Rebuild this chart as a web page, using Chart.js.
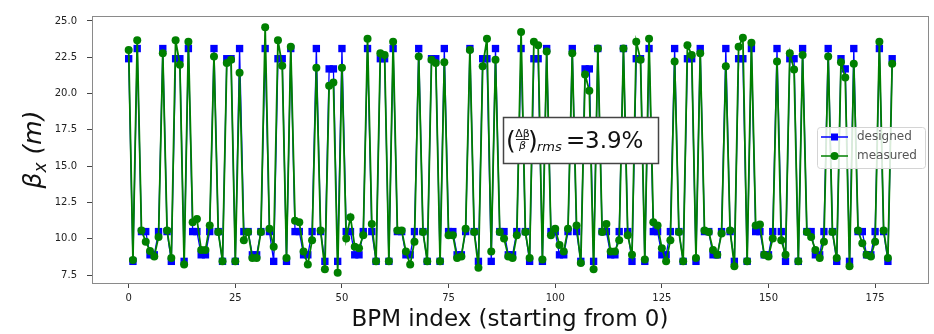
<!DOCTYPE html>
<html>
<head>
<meta charset="utf-8">
<script src="https://cdn.jsdelivr.net/npm/chart.js@4.4.1/dist/chart.umd.min.js"></script>
<style>
  html, body { margin: 0; padding: 0; background: #fff; }
  canvas { display: block; }
</style>
</head>
<body>
<canvas id="beta" width="934" height="334" style="width:934px;height:334px"></canvas>
<script>
// BPM position index along the ring
const bpmIndex = [
    0, 1, 2, 3, 4, 5, 6, 7, 8, 9, 10, 11, 12, 13, 14, 15, 16, 17, 18, 19,
    20, 21, 22, 23, 24, 25, 26, 27, 28, 29, 30, 31, 32, 33, 34, 35, 36, 37, 38, 39,
    40, 41, 42, 43, 44, 45, 46, 47, 48, 49, 50, 51, 52, 53, 54, 55, 56, 57, 58, 59,
    60, 61, 62, 63, 64, 65, 66, 67, 68, 69, 70, 71, 72, 73, 74, 75, 76, 77, 78, 79,
    80, 81, 82, 83, 84, 85, 86, 87, 88, 89, 90, 91, 92, 93, 94, 95, 96, 97, 98, 99,
    100, 101, 102, 103, 104, 105, 106, 107, 108, 109, 110, 111, 112, 113, 114, 115, 116, 117, 118, 119,
    120, 121, 122, 123, 124, 125, 126, 127, 128, 129, 130, 131, 132, 133, 134, 135, 136, 137, 138, 139,
    140, 141, 142, 143, 144, 145, 146, 147, 148, 149, 150, 151, 152, 153, 154, 155, 156, 157, 158, 159,
    160, 161, 162, 163, 164, 165, 166, 167, 168, 169, 170, 171, 172, 173, 174, 175, 176, 177, 178, 179
];

// model beta_x at each BPM (m)
const designed = [
    22.4, 8.45, 23.1, 10.5, 10.5, 8.9, 8.9, 10.5, 23.1, 10.5, 8.45, 22.4,
    22.4, 8.45, 23.1, 10.5, 10.5, 8.9, 8.9, 10.5, 23.1, 10.5, 8.45, 22.4,
    22.4, 8.45, 23.1, 10.5, 10.5, 8.9, 8.9, 10.5, 23.1, 10.5, 8.45, 22.4,
    22.4, 8.45, 23.1, 10.5, 10.5, 8.9, 8.9, 10.5, 23.1, 10.5, 8.45, 21.7,
    21.7, 8.45, 23.1, 10.5, 10.5, 8.9, 8.9, 10.5, 23.1, 10.5, 8.45, 22.4,
    22.4, 8.45, 23.1, 10.5, 10.5, 8.9, 8.9, 10.5, 23.1, 10.5, 8.45, 22.4,
    22.4, 8.45, 23.1, 10.5, 10.5, 8.9, 8.9, 10.5, 23.1, 10.5, 8.45, 22.4,
    22.4, 8.45, 23.1, 10.5, 10.5, 8.9, 8.9, 10.5, 23.1, 10.5, 8.45, 22.4,
    22.4, 8.45, 23.1, 10.5, 10.5, 8.9, 8.9, 10.5, 23.1, 10.5, 8.45, 21.7,
    21.7, 8.45, 23.1, 10.5, 10.5, 8.9, 8.9, 10.5, 23.1, 10.5, 8.45, 22.4,
    22.4, 8.45, 23.1, 10.5, 10.5, 8.9, 8.9, 10.5, 23.1, 10.5, 8.45, 22.4,
    22.4, 8.45, 23.1, 10.5, 10.5, 8.9, 8.9, 10.5, 23.1, 10.5, 8.45, 22.4,
    22.4, 8.45, 23.1, 10.5, 10.5, 8.9, 8.9, 10.5, 23.1, 10.5, 8.45, 22.4,
    22.4, 8.45, 23.1, 10.5, 10.5, 8.9, 8.9, 10.5, 23.1, 10.5, 8.45, 22.4,
    21.7, 8.45, 23.1, 10.5, 10.5, 8.9, 8.9, 10.5, 23.1, 10.5, 8.45, 22.4
];

// measured beta_x at each BPM (m)
const measured = [
    23.0, 8.55, 23.67, 10.58, 9.8, 9.17, 8.79, 10.13, 22.77, 10.58, 8.68, 23.67,
    21.99, 8.23, 23.56, 11.14, 11.36, 9.24, 9.24, 10.92, 22.55, 10.47, 8.46, 22.1,
    22.33, 8.46, 21.43, 9.91, 10.47, 8.68, 8.68, 10.47, 24.56, 10.69, 9.46, 23.67,
    21.92, 8.68, 23.22, 11.25, 11.14, 9.13, 8.23, 9.91, 21.77, 10.58, 7.9, 20.54,
    20.76, 7.67, 21.77, 10.02, 11.48, 9.46, 9.35, 10.25, 23.78, 11.03, 8.46, 22.77,
    22.66, 8.46, 23.56, 10.58, 10.58, 9.13, 8.23, 9.8, 22.55, 10.47, 8.46, 22.33,
    22.1, 8.46, 22.15, 10.25, 10.25, 8.68, 8.79, 10.69, 23.0, 10.47, 8.01, 21.88,
    23.78, 9.13, 22.33, 10.47, 10.02, 8.79, 8.68, 10.25, 24.23, 10.47, 8.68, 23.56,
    23.33, 8.57, 22.89, 10.25, 10.69, 9.58, 9.13, 10.69, 22.77, 10.92, 8.34, 21.32,
    20.2, 7.9, 23.11, 10.47, 11.03, 9.13, 9.13, 9.91, 23.11, 10.25, 8.9, 23.56,
    22.33, 8.57, 23.78, 11.14, 10.92, 9.35, 8.46, 9.91, 22.21, 10.47, 8.46, 23.33,
    22.66, 8.68, 22.77, 10.58, 10.47, 9.24, 8.9, 10.36, 21.88, 10.58, 8.12, 23.22,
    23.85, 8.46, 23.49, 10.92, 10.98, 8.9, 8.79, 10.02, 22.21, 9.91, 8.9, 22.77,
    21.66, 8.46, 22.66, 10.47, 10.13, 9.24, 8.68, 9.8, 22.55, 10.47, 8.68, 22.15,
    21.1, 8.12, 22.06, 10.58, 9.69, 8.9, 8.79, 9.8, 23.56, 10.58, 8.68, 22.06
];

const xTicks = [0, 25, 50, 75, 100, 125, 150, 175];
const yTicks = [7.5, 10.0, 12.5, 15.0, 17.5, 20.0, 22.5, 25.0];
const rmsText = '3.9%';

const BLUE = '#0000ff';
const GREEN = '#008000';

const toPoints = values => values.map((v, i) => ({ x: bpmIndex[i], y: v }));

// frame, axis titles, legend and the rms box
const decorations = {
    id: 'decorations',
    afterDraw(chart) {
        const { ctx, chartArea: a } = chart;
        ctx.save();

        ctx.strokeStyle = '#8a8a8a';
        ctx.lineWidth = 1;
        ctx.strokeRect(a.left + 0.5, a.top + 0.5, a.right - a.left, a.bottom - a.top);

        // x axis title
        ctx.fillStyle = '#111';
        ctx.font = '23px "DejaVu Sans"';
        ctx.textAlign = 'center';
        ctx.textBaseline = 'alphabetic';
        ctx.fillText('BPM index (starting from 0)', (a.left + a.right) / 2, 326);

        // y axis title: beta_x (m)
        ctx.save();
        ctx.translate(41, (a.top + a.bottom) / 2);
        ctx.rotate(-Math.PI / 2);
        ctx.textAlign = 'left';
        const big = 'italic 25px "DejaVu Sans"';
        const sub = 'italic 17px "DejaVu Sans"';
        ctx.font = big; const wB = ctx.measureText('β').width;
        ctx.font = sub; const wX = ctx.measureText('x').width;
        ctx.font = big; const wM = ctx.measureText(' (m)').width;
        let px = -(wB + wX + wM) / 2;
        ctx.font = big; ctx.fillText('β', px, 0); px += wB;
        ctx.font = sub; ctx.fillText('x', px, 5); px += wX;
        ctx.font = big; ctx.fillText(' (m)', px, 0);
        ctx.restore();

        // legend
        const lx = 817, ly = 127, lw = 108, lh = 41;
        ctx.beginPath();
        ctx.roundRect(lx + 0.5, ly + 0.5, lw, lh, 3);
        ctx.fillStyle = 'rgba(255,255,255,0.85)';
        ctx.fill();
        ctx.strokeStyle = '#d4d4d4';
        ctx.stroke();
        chart.data.datasets.forEach((ds, k) => {
            const ry = ly + 10 + k * 19;
            ctx.strokeStyle = ds.borderColor;
            ctx.lineWidth = 1.5;
            ctx.beginPath();
            ctx.moveTo(lx + 4, ry);
            ctx.lineTo(lx + 31, ry);
            ctx.stroke();
            ctx.fillStyle = ds.borderColor;
            ctx.beginPath();
            if (ds.pointStyle === 'rect') ctx.rect(lx + 14, ry - 3.5, 7, 7);
            else ctx.arc(lx + 17.5, ry, 4, 0, Math.PI * 2);
            ctx.fill();
            ctx.fillStyle = '#555';
            ctx.font = '12px "DejaVu Sans"';
            ctx.textAlign = 'left';
            ctx.textBaseline = 'middle';
            ctx.fillText(ds.label, lx + 40, ry);
        });

        // (delta beta / beta)_rms box
        ctx.beginPath();
        ctx.rect(503.5, 117.5, 155, 46);
        ctx.fillStyle = '#fff';
        ctx.fill();
        ctx.strokeStyle = '#444';
        ctx.lineWidth = 1.5;
        ctx.stroke();

        ctx.fillStyle = '#111';
        ctx.textBaseline = 'alphabetic';
        ctx.textAlign = 'left';
        ctx.font = '25px "DejaVu Sans"';
        ctx.fillText('(', 506, 149);
        ctx.fillText(')', 528, 149);
        ctx.textAlign = 'center';
        ctx.font = '11px "DejaVu Sans"';
        ctx.fillText('Δβ', 522.5, 137);
        ctx.font = 'italic 11px "DejaVu Sans"';
        ctx.fillText('β', 522.5, 149);
        ctx.lineWidth = 0.9;
        ctx.strokeStyle = '#111';
        ctx.beginPath();
        ctx.moveTo(516, 139.5);
        ctx.lineTo(529, 139.5);
        ctx.stroke();
        ctx.textAlign = 'left';
        ctx.font = 'italic 13px "DejaVu Sans"';
        ctx.fillText('rms', 537, 151);
        ctx.font = '23px "DejaVu Sans"';
        ctx.fillText('=', 566, 148);
        ctx.fillText(rmsText, 585, 148);

        ctx.restore();
    }
};

const tickFont = { family: 'DejaVu Sans', size: 10 };

new Chart(document.getElementById('beta').getContext('2d'), {
    type: 'line',
    data: {
        datasets: [{
            label: 'designed',
            data: toPoints(designed),
            borderColor: BLUE,
            backgroundColor: BLUE,
            pointStyle: 'rect',
            pointRadius: 5.2,
            pointBorderWidth: 0,
            borderWidth: 1.3,
            tension: 0,
            order: 2
        }, {
            label: 'measured',
            data: toPoints(measured),
            borderColor: GREEN,
            backgroundColor: GREEN,
            pointStyle: 'circle',
            pointRadius: 4,
            pointBorderWidth: 0,
            borderWidth: 1.8,
            tension: 0,
            order: 1
        }]
    },
    options: {
        responsive: false,
        animation: false,
        devicePixelRatio: 1,
        layout: { padding: { top: 9, right: 6, left: 0, bottom: 0 } },
        plugins: {
            legend: { display: false },
            tooltip: { enabled: false }
        },
        scales: {
            x: {
                type: 'linear',
                min: -8.6,
                max: 187.4,
                afterFit: scale => { scale.height = 51; },
                afterBuildTicks: scale => { scale.ticks = xTicks.map(v => ({ value: v })); },
                grid: { drawOnChartArea: false, tickLength: 5, color: '#444' },
                border: { color: '#8a8a8a' },
                ticks: {
                    font: tickFont,
                    color: '#222',
                    padding: 4,
                    maxRotation: 0,
                    callback: v => String(v)
                }
            },
            y: {
                min: 6.96,
                max: 25.34,
                afterFit: scale => { scale.width = 92; },
                afterBuildTicks: scale => { scale.ticks = yTicks.map(v => ({ value: v })); },
                grid: { drawOnChartArea: false, tickLength: 5, color: '#444' },
                border: { color: '#8a8a8a' },
                ticks: {
                    font: tickFont,
                    color: '#222',
                    padding: 10,
                    callback: v => v.toFixed(1)
                }
            }
        }
    },
    plugins: [decorations]
});
</script>
</body>
</html>
